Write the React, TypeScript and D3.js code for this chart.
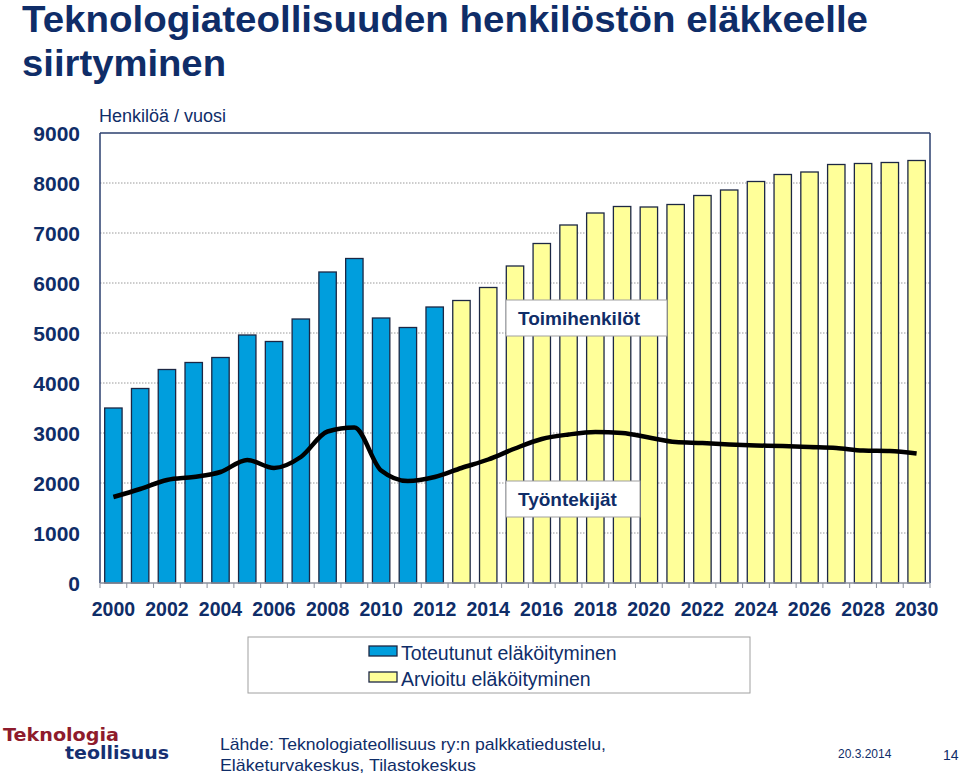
import React from "react";
import * as d3 from "d3";

const years: number[] = d3.range(2000, 2031);
const totalValues: number[] = [
  3500, 3890, 4270, 4410, 4510, 4960, 4830, 5280, 6220, 6490, 5300, 5110, 5520,
  5650, 5910, 6340, 6790, 7160, 7400, 7530, 7520, 7570, 7750, 7860, 8030, 8170,
  8220, 8370, 8390, 8410, 8450,
];
const workerValues: number[] = [
  1720, 1880, 2060, 2120, 2220, 2460, 2300, 2520, 3030, 3110, 2250, 2040, 2120,
  2300, 2470, 2690, 2880, 2970, 3020, 3000, 2910, 2820, 2800, 2770, 2750, 2740,
  2720, 2700, 2650, 2640, 2590,
];
const lastActualYear = 2012;
const yTicks: number[] = [0, 1000, 2000, 3000, 4000, 5000, 6000, 7000, 8000, 9000];
const xTickLabels: number[] = [2000, 2002, 2004, 2006, 2008, 2010, 2012, 2014, 2016, 2018, 2020, 2022, 2024, 2026, 2028, 2030];
const titleLines: string[] = ["Teknologiateollisuuden henkilöstön eläkkeelle", "siirtyminen"];
const legendLabels: string[] = ["Toteutunut eläköityminen", "Arvioitu eläköityminen"];
const sourceLines: string[] = [
  "Lähde: Teknologiateollisuus ry:n palkkatiedustelu,",
  "Eläketurvakeskus, Tilastokeskus",
];

const NAVY = "#0f2d68";
const BLUE = "#009edd";
const YELLOW = "#ffff99";
const FONT = "'Liberation Sans', Arial, sans-serif";

export default function App() {
  const left = 100, right = 930, top = 133, bottom = 583;
  const x = d3.scaleBand<number>().domain(years).range([left, right]).paddingInner(0.35).paddingOuter(0.175);
  const y = d3.scaleLinear().domain([0, 9000]).range([bottom, top]);
  const step = x.step();
  const bw = x.bandwidth();
  const line = d3
    .line<number>()
    .x((_, i) => (x(years[i]) as number) + bw / 2)
    .y((d) => y(d))
    .curve(d3.curveMonotoneX);

  return (
    <svg width={960} height={778} style={{ position: "absolute", left: 0, top: 0, background: "#fff" }} fontFamily={FONT}>
      <rect x={0} y={0} width={960} height={778} fill="#fff" />
      <text x={22} y={32} fontSize={36} fontWeight="bold" fill={NAVY} textLength={846} lengthAdjust="spacingAndGlyphs">
        {titleLines[0]}
      </text>
      <text x={22} y={76} fontSize={36} fontWeight="bold" fill={NAVY} textLength={204} lengthAdjust="spacingAndGlyphs">
        {titleLines[1]}
      </text>
      <text x={99} y={122} fontSize={18} fill={NAVY}>Henkilöä / vuosi</text>

      {/* grid */}
      {yTicks.filter((v) => v > 0 && v < 9000).map((v) => (
        <line key={v} x1={left} x2={right} y1={y(v)} y2={y(v)} stroke="#9a9a9a" strokeWidth={1} strokeDasharray="1.5,1.5" />
      ))}
      {/* y labels */}
      {yTicks.map((v) => (
        <text key={v} x={80} y={y(v)} dy="0.36em" textAnchor="end" fontSize={21} fontWeight="bold" fill={NAVY}>
          {v}
        </text>
      ))}
      {/* bars */}
      {years.map((yr, i) => (
        <rect
          key={yr}
          x={x(yr)}
          y={y(totalValues[i])}
          width={bw}
          height={bottom - y(totalValues[i])}
          fill={yr <= lastActualYear ? BLUE : YELLOW}
          stroke="#1c2744"
          strokeWidth={1.3}
        />
      ))}
      {/* frame */}
      <line x1={left} x2={right} y1={top} y2={top} stroke="#2b3f6e" strokeWidth={1.5} />
      <line x1={right} x2={right} y1={top} y2={bottom} stroke="#2b3f6e" strokeWidth={1.5} />
      <line x1={left} x2={left} y1={top} y2={bottom} stroke="#2b3f6e" strokeWidth={1.5} />
      <line x1={left} x2={right} y1={bottom} y2={bottom} stroke="#8a8f9c" strokeWidth={1.5} />
      {d3.range(years.length + 1).map((i) => (
        <line key={i} x1={left + i * step} x2={left + i * step} y1={bottom} y2={bottom + 5} stroke="#8a8f9c" strokeWidth={1} />
      ))}
      {/* line */}
      <path d={line(workerValues) || ""} fill="none" stroke="#000" strokeWidth={4.5} strokeLinejoin="round" />

      {/* labels */}
      <rect x={506} y={300} width={161} height={36} fill="#fff" stroke="#a0a0a0" strokeWidth={1} />
      <text x={518} y={325} fontSize={19} fontWeight="bold" fill={NAVY}>Toimihenkilöt</text>
      <rect x={506} y={481} width={134} height={36} fill="#fff" stroke="#a0a0a0" strokeWidth={1} />
      <text x={518} y={506} fontSize={19} fontWeight="bold" fill={NAVY}>Työntekijät</text>

      {/* x labels */}
      {xTickLabels.map((yr) => (
        <text key={yr} x={(x(yr) as number) + bw / 2} y={616} textAnchor="middle" fontSize={19.5} fontWeight="bold" fill={NAVY}>
          {yr}
        </text>
      ))}

      {/* legend */}
      <rect x={248} y={637} width={502} height={56} fill="#fff" stroke="#a0a0a0" strokeWidth={1} />
      {legendLabels.map((l, i) => (
        <g key={l}>
          <rect x={369} y={646 + i * 26} width={28} height={10} fill={i === 0 ? BLUE : YELLOW} stroke="#1c2744" strokeWidth={1.3} />
          <text x={401} y={660 + i * 26} fontSize={19.5} fill={NAVY}>{l}</text>
        </g>
      ))}

      {/* footer */}
      <text x={3} y={741} fontSize={17} fontWeight="900" fill="#8e1b2c" textLength={116} lengthAdjust="spacingAndGlyphs" fontFamily="'DejaVu Sans', sans-serif">Teknologia</text>
      <text x={65} y={759} fontSize={17} fontWeight="900" fill="#163071" textLength={104} lengthAdjust="spacingAndGlyphs" fontFamily="'DejaVu Sans', sans-serif">teollisuus</text>
      {sourceLines.map((s, i) => (
        <text key={i} x={220} y={750 + i * 21} fontSize={17} fill={NAVY} textLength={i === 0 ? 386 : 256} lengthAdjust="spacingAndGlyphs">{s}</text>
      ))}
      <text x={838} y={758} fontSize={12} fill={NAVY}>20.3.2014</text>
      <text x={943} y={760} fontSize={14} fill={NAVY}>14</text>
    </svg>
  );
}
